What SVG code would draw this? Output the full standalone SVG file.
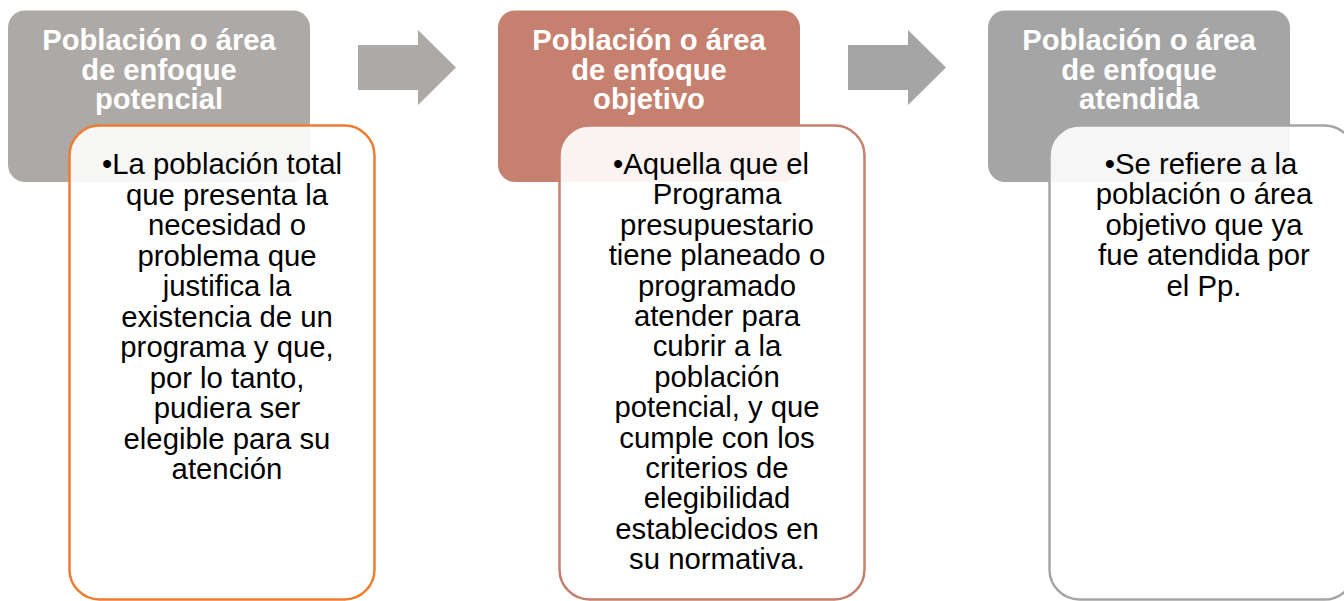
<svg xmlns="http://www.w3.org/2000/svg" width="1344" height="601" viewBox="0 0 1344 601">
<style>
.hdr{font-family:"Liberation Sans",Arial,sans-serif;font-weight:bold;font-size:29.2px;fill:#FFFFFF;text-anchor:middle}
.body{font-family:"Liberation Sans",Arial,sans-serif;font-size:29.3px;fill:#000000;text-anchor:middle}
.card{fill:#FFFFFF;fill-opacity:0.9;stroke-width:2.5}
</style>
<rect width="1344" height="601" fill="#FFFFFF"/>
<g id="connectors">
<polygon points="358,45 418,45 418,30 456,67.5 418,105 418,90 358,90" fill="#ADA9A7"/>
<polygon points="848,45 908,45 908,30 946,67.5 908,105 908,90 848,90" fill="#A5A5A5"/>
</g>
<g id="node-potencial">
<rect x="8" y="10.5" width="302" height="171.5" rx="17" fill="#ADA9A7"/>
<text class="hdr"><tspan x="159" y="50">Población o área</tspan><tspan x="159" y="79.5">de enfoque</tspan><tspan x="159" y="109">potencial</tspan></text>
</g>
<g id="node-potencial-desc">
<rect class="card" x="69.5" y="125.5" width="305" height="474" rx="30" stroke="#ED7D31"/>
<text class="body"><tspan x="222" y="174">•La población total</tspan><tspan x="227" y="204.5">que presenta la</tspan><tspan x="227" y="235">necesidad o</tspan><tspan x="227" y="265.5">problema que</tspan><tspan x="227" y="296">justifica la</tspan><tspan x="227" y="326.5">existencia de un</tspan><tspan x="227" y="357">programa y que,</tspan><tspan x="227" y="387.5">por lo tanto,</tspan><tspan x="227" y="418">pudiera ser</tspan><tspan x="227" y="448.5">elegible para su</tspan><tspan x="227" y="479">atención</tspan></text>
</g>
<g id="node-objetivo">
<rect x="498" y="10.5" width="302" height="171.5" rx="17" fill="#C5806F"/>
<text class="hdr"><tspan x="649" y="50">Población o área</tspan><tspan x="649" y="79.5">de enfoque</tspan><tspan x="649" y="109">objetivo</tspan></text>
</g>
<g id="node-objetivo-desc">
<rect class="card" x="559.5" y="125.5" width="305" height="474" rx="30" stroke="#C5806F"/>
<text class="body"><tspan x="711" y="174">•Aquella que el</tspan><tspan x="717" y="204.4">Programa</tspan><tspan x="717" y="234.8">presupuestario</tspan><tspan x="717" y="265.2">tiene planeado o</tspan><tspan x="717" y="295.6">programado</tspan><tspan x="717" y="326">atender para</tspan><tspan x="717" y="356.4">cubrir a la</tspan><tspan x="717" y="386.8">población</tspan><tspan x="717" y="417.2">potencial, y que</tspan><tspan x="717" y="447.6">cumple con los</tspan><tspan x="717" y="478">criterios de</tspan><tspan x="717" y="508.4">elegibilidad</tspan><tspan x="717" y="538.8">establecidos en</tspan><tspan x="717" y="569.2">su normativa.</tspan></text>
</g>
<g id="node-atendida">
<rect x="988" y="10.5" width="302" height="171.5" rx="17" fill="#A5A5A5"/>
<text class="hdr"><tspan x="1139" y="50">Población o área</tspan><tspan x="1139" y="79.5">de enfoque</tspan><tspan x="1139" y="109">atendida</tspan></text>
</g>
<g id="node-atendida-desc">
<rect class="card" x="1049.5" y="125.5" width="305" height="474" rx="30" stroke="#A5A5A5"/>
<text class="body"><tspan x="1201" y="174">•Se refiere a la</tspan><tspan x="1204" y="204.4">población o área</tspan><tspan x="1204" y="234.8">objetivo que ya</tspan><tspan x="1204" y="265.2">fue atendida por</tspan><tspan x="1204" y="295.6">el Pp.</tspan></text>
</g>
</svg>
